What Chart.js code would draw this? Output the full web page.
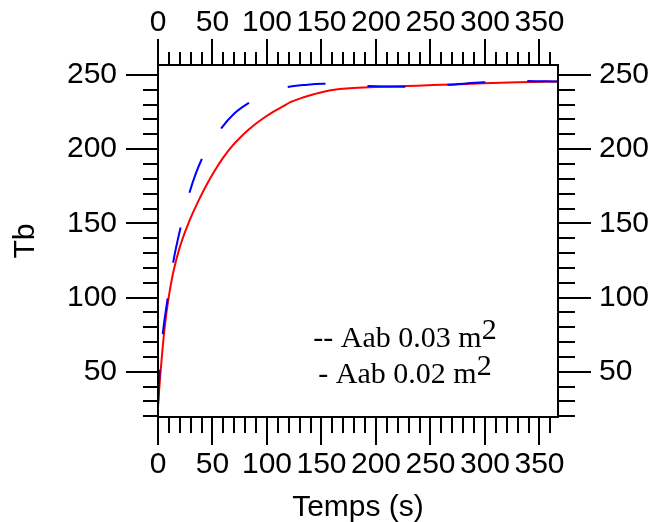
<!DOCTYPE html>
<html><head><meta charset="utf-8">
<script src="https://cdn.jsdelivr.net/npm/chart.js@4/dist/chart.umd.min.js"></script>
<style>html,body{margin:0;padding:0;background:#fff;}canvas{display:block;}</style>
</head><body>
<canvas id="c" width="651" height="522"></canvas>
<script>
// ---- data ----
const redTime = [0, 2, 4, 6, 8, 10, 14, 20, 29, 37, 45, 52, 60, 68, 75, 83, 90, 98, 106, 115, 122, 133, 143, 152, 165, 176, 200, 238, 270, 299, 330, 367];
const redTb   = [27, 47, 64, 79, 91, 101, 117, 134, 152, 165, 176.5, 185.5, 194.5, 202, 207.5, 213, 217.3, 221.5, 225.3, 229, 231.8, 234.8, 237, 238.7, 240.3, 241, 241.8, 242.8, 243.6, 244.4, 245, 245.5];
const blueTime = [0, 1.6, 4.6, 9, 14, 21, 29, 40, 50, 58, 70, 83, 100, 116, 135, 152, 170, 190, 226, 264, 299, 337, 367];
const blueTb   = [27, 53, 77, 100, 124, 148, 171, 193, 205, 214, 224, 231, 237.5, 241.4, 243.3, 244, 243.5, 242.6, 242.1, 243.3, 245, 246, 245.5];
const xTickValues = [0, 50, 100, 150, 200, 250, 300, 350];
const yTickValues = [50, 100, 150, 200, 250];
const legendLines = ['-- Aab 0.03 m', '- Aab 0.02 m'];
const legendSup = '2';
const xTitle = 'Temps (s)';
const yTitle = 'Tb';

const SANS = 'Liberation Sans';
const tickFont = {family: SANS, size: 30};

const frame = {
  id: 'frame',
  afterDatasetsDraw(chart) {
    const {ctx, chartArea: a, scales} = chart;
    ctx.save();
    ctx.strokeStyle = '#000';
    ctx.lineWidth = 2;
    ctx.strokeRect(a.left, a.top, a.right - a.left, a.bottom - a.top);
    ctx.beginPath();
    const xs = scales.x;
    for (let v = 0; v <= xs.max + 1e-9; v += 10) {
      const p = Math.round(xs.getPixelForValue(v));
      const major = v % 50 === 0;
      ctx.moveTo(p, a.bottom); ctx.lineTo(p, a.bottom + (major ? 28 : 16));
      ctx.moveTo(p, a.top); ctx.lineTo(p, a.top - (major ? 26 : 13));
    }
    const ys = scales.y;
    for (let v = Math.ceil(ys.min / 10) * 10; v <= ys.max + 1e-9; v += 10) {
      const p = Math.round(ys.getPixelForValue(v));
      const major = v % 50 === 0;
      ctx.moveTo(a.left, p); ctx.lineTo(a.left - (major ? 32 : 15), p);
      ctx.moveTo(a.right, p); ctx.lineTo(a.right + (major ? 33 : 17), p);
    }
    ctx.stroke();
    ctx.restore();
  },
  afterDraw(chart) {
    const {ctx} = chart;
    ctx.save();
    ctx.fillStyle = '#000';
    ctx.font = '30px "Liberation Serif"';
    ctx.textBaseline = 'alphabetic';
    const cx = 405, base = [347, 383];
    legendLines.forEach((t, i) => {
      const w1 = ctx.measureText(t).width, w2 = ctx.measureText(legendSup).width;
      const x0 = cx - (w1 + w2) / 2;
      ctx.fillText(t, x0, base[i]);
      ctx.fillText(legendSup, x0 + w1, base[i] - 8);
    });
    ctx.restore();
  }
};

function setTicks(vals) { return s => { s.ticks = vals.map(v => ({value: v})); }; }
const gridOpts = {display: true, drawOnChartArea: false, drawTicks: false};

new Chart(document.getElementById('c'), {
  type: 'line',
  data: {
    datasets: [
      {label: 'Aab 0.03 m2', data: blueTime.map((t, i) => ({x: t, y: blueTb[i]})),
       borderColor: '#0000ff', borderWidth: 2, borderDash: [36, 36], pointRadius: 0,
       segment: {borderDash: c => (blueTime[c.p0DataIndex] < 58 ? [36, 36] : [38, 42])},
       cubicInterpolationMode: 'monotone', fill: false, order: 0},
      {label: 'Aab 0.02 m2', data: redTime.map((t, i) => ({x: t, y: redTb[i]})),
       borderColor: '#ff0000', borderWidth: 2, pointRadius: 0,
       cubicInterpolationMode: 'monotone', fill: false, order: 1}
    ]
  },
  options: {
    responsive: false, animation: false, devicePixelRatio: 1,
    layout: {padding: 0},
    plugins: {legend: {display: false}, tooltip: {enabled: false}},
    scales: {
      x: {type: 'linear', position: 'bottom', min: 0, max: 367,
          afterBuildTicks: setTicks(xTickValues), afterFit: s => { s.height = 105; },
          grid: gridOpts, border: {display: false},
          ticks: {font: tickFont, color: '#000', padding: 30, maxRotation: 0, autoSkip: false},
          title: {display: true, text: xTitle, color: '#000', font: {family: SANS, size: 30}, padding: {top: 0, bottom: -4}}},
      x2: {type: 'linear', position: 'top', min: 0, max: 367,
          afterBuildTicks: setTicks(xTickValues), afterFit: s => { s.height = 65; },
          grid: gridOpts, border: {display: false},
          ticks: {font: tickFont, color: '#000', padding: 24, maxRotation: 0, autoSkip: false}},
      y: {type: 'linear', position: 'left', min: 19.5, max: 256.7,
          afterBuildTicks: setTicks(yTickValues), afterFit: s => { s.width = 158; },
          grid: gridOpts, border: {display: false},
          ticks: {font: tickFont, color: '#000', padding: 41, autoSkip: false},
          title: {display: true, text: yTitle, color: '#000', font: {family: SANS, size: 30}, padding: {top: 8, bottom: 0}}},
      y2: {type: 'linear', position: 'right', min: 19.5, max: 256.7,
          afterBuildTicks: setTicks(yTickValues), afterFit: s => { s.width = 93; },
          grid: gridOpts, border: {display: false},
          ticks: {font: tickFont, color: '#000', padding: 41, autoSkip: false}}
    }
  },
  plugins: [frame]
});
</script>
</body></html>
